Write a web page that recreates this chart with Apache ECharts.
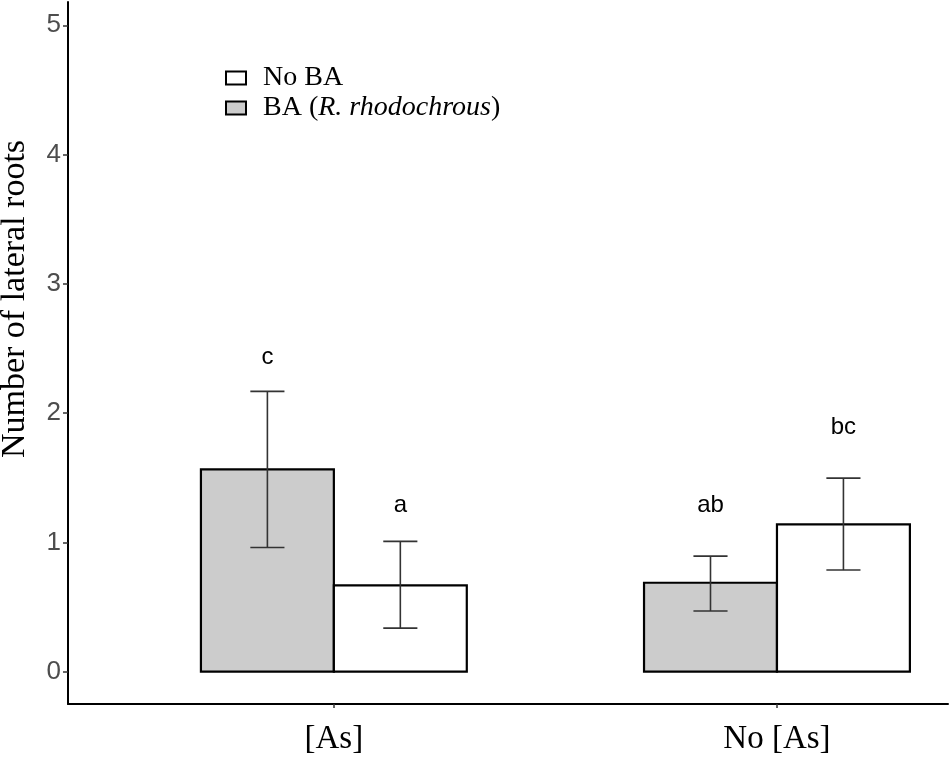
<!DOCTYPE html>
<html>
<head>
<meta charset="utf-8">
<script src="https://cdn.jsdelivr.net/npm/echarts@6/dist/echarts.min.js"></script>
<style>
  html, body { margin: 0; padding: 0; background: #fff; }
  #chart { width: 950px; height: 758px; }
</style>
</head>
<body>
<div id="chart"></div>
<script>
// groups on the x axis (positions 1 and 2)
var categories = ['[As]', 'No [As]'];
var categoryPos = [1, 2];

// BA (R. rhodochrous) - grey bars
var baMean = [1.565, 0.688];
var baLow = [0.961, 0.469];
var baHigh = [2.168, 0.894];

// No BA - white bars
var noBaMean = [0.667, 1.139];
var noBaLow = [0.337, 0.786];
var noBaHigh = [1.008, 1.497];

// significance letters: grey bar, white bar for each group
var letterText = ['c', 'a', 'ab', 'bc'];
var letterY = [2.43, 1.29, 1.29, 1.89];

var yTicks = [0, 1, 2, 3, 4, 5];

var serif = "'Liberation Serif', 'Times New Roman', serif";
var sans = "'Liberation Sans', Arial, sans-serif";

function rows(mean, low, high) {
    return categoryPos.map(function (c, i) {
        return [c, mean[i], low[i], high[i]];
    });
}

// bar drawn from x+from to x+to, with error bar in the middle
function barRenderer(from, to, fill) {
    return function (params, api) {
        var c = api.value(0);
        var v = api.value(1);
        var p0 = api.coord([c + from, 0]);
        var p1 = api.coord([c + to, v]);
        var mid = c + (from + to) / 2;
        var lo = api.coord([mid, api.value(2)]);
        var hi = api.coord([mid, api.value(3)]);
        var capHalf = (api.coord([c + 0.0385, 0])[0] - api.coord([c, 0])[0]);
        var errStyle = { stroke: '#333333', lineWidth: 1.6 };
        return {
            type: 'group',
            children: [{
                type: 'rect',
                shape: { x: p0[0], y: p1[1], width: p1[0] - p0[0], height: p0[1] - p1[1] },
                style: { fill: fill, stroke: '#000', lineWidth: 2.2 }
            }, {
                type: 'line',
                shape: { x1: lo[0], y1: lo[1], x2: hi[0], y2: hi[1] },
                style: errStyle
            }, {
                type: 'line',
                shape: { x1: hi[0] - capHalf, y1: hi[1], x2: hi[0] + capHalf, y2: hi[1] },
                style: errStyle
            }, {
                type: 'line',
                shape: { x1: lo[0] - capHalf, y1: lo[1], x2: lo[0] + capHalf, y2: lo[1] },
                style: errStyle
            }]
        };
    };
}

var letterData = [];
categoryPos.forEach(function (c, i) {
    letterData.push([c - 0.15, letterY[i * 2], letterText[i * 2]]);
    letterData.push([c + 0.15, letterY[i * 2 + 1], letterText[i * 2 + 1]]);
});

var chart = echarts.init(document.getElementById('chart'));

var option = {
    animation: false,
    backgroundColor: '#fff',
    grid: { left: 68, right: 2, top: 2, bottom: 54, containLabel: false },
    legend: {
        orient: 'vertical',
        left: 225,
        top: 64,
        padding: 0,
        itemWidth: 20,
        itemHeight: 13,
        itemGap: 2,
        selectedMode: false,
        textStyle: {
            fontFamily: serif,
            fontSize: 28,
            lineHeight: 28,
            color: '#000',
            padding: [0, 0, 0, 12],
            rich: {
                n: { fontFamily: serif, fontSize: 28, color: '#000' },
                i: { fontFamily: serif, fontSize: 28, fontStyle: 'italic', color: '#000' }
            }
        },
        formatter: function (name) {
            if (name === 'BA (R. rhodochrous)') {
                return '{n|BA (}{i|R. rhodochrous}{n|)}';
            }
            return name;
        },
        data: [
            { name: 'No BA', icon: 'rect', itemStyle: { color: '#fff', borderColor: '#000', borderWidth: 2 } },
            { name: 'BA (R. rhodochrous)', icon: 'rect', itemStyle: { color: '#cccccc', borderColor: '#000', borderWidth: 2 } }
        ]
    },
    graphic: [{
        type: 'text',
        x: 15,
        y: 299,
        rotation: Math.PI / 2,
        style: {
            text: 'Number of lateral roots',
            fontFamily: serif,
            fontSize: 34,
            fill: '#000',
            align: 'center',
            verticalAlign: 'middle'
        }
    }],
    xAxis: {
        type: 'value',
        min: 0.4,
        max: 2.386,
        splitLine: { show: false },
        axisLine: { show: true, onZero: false, lineStyle: { color: '#000', width: 2 } },
        axisTick: { show: true, customValues: categoryPos, length: 4, lineStyle: { color: '#333', width: 1.5 } },
        axisLabel: {
            customValues: categoryPos,
            margin: 19,
            fontFamily: serif,
            fontSize: 33,
            color: '#000',
            formatter: function (v) {
                return categories[categoryPos.indexOf(Math.round(v))] || '';
            }
        }
    },
    yAxis: {
        type: 'value',
        min: -0.25,
        max: 5.18,
        splitLine: { show: false },
        axisLine: { show: true, onZero: false, lineStyle: { color: '#000', width: 2 } },
        axisTick: { show: true, customValues: yTicks, length: 5, lineStyle: { color: '#333', width: 1.5 } },
        axisLabel: {
            customValues: yTicks,
            margin: 7,
            fontFamily: sans,
            fontSize: 26,
            color: '#4d4d4d'
        }
    },
    series: [{
        name: 'BA (R. rhodochrous)',
        type: 'custom',
        itemStyle: { color: '#cccccc', borderColor: '#000', borderWidth: 2 },
        renderItem: barRenderer(-0.3, 0, '#cccccc'),
        encode: { x: 0, y: [1, 2, 3] },
        data: rows(baMean, baLow, baHigh)
    }, {
        name: 'No BA',
        type: 'custom',
        itemStyle: { color: '#fff', borderColor: '#000', borderWidth: 2 },
        renderItem: barRenderer(0, 0.3, '#ffffff'),
        encode: { x: 0, y: [1, 2, 3] },
        data: rows(noBaMean, noBaLow, noBaHigh)
    }, {
        name: 'letters',
        type: 'custom',
        renderItem: function (params, api) {
            var p = api.coord([api.value(0), api.value(1)]);
            return {
                type: 'text',
                x: p[0],
                y: p[1],
                style: {
                    text: letterData[params.dataIndex][2],
                    fontFamily: sans,
                    fontSize: 24,
                    fill: '#000',
                    align: 'center',
                    verticalAlign: 'middle'
                }
            };
        },
        encode: { x: 0, y: 1 },
        data: letterData
    }]
};

chart.setOption(option);
</script>
</body>
</html>
